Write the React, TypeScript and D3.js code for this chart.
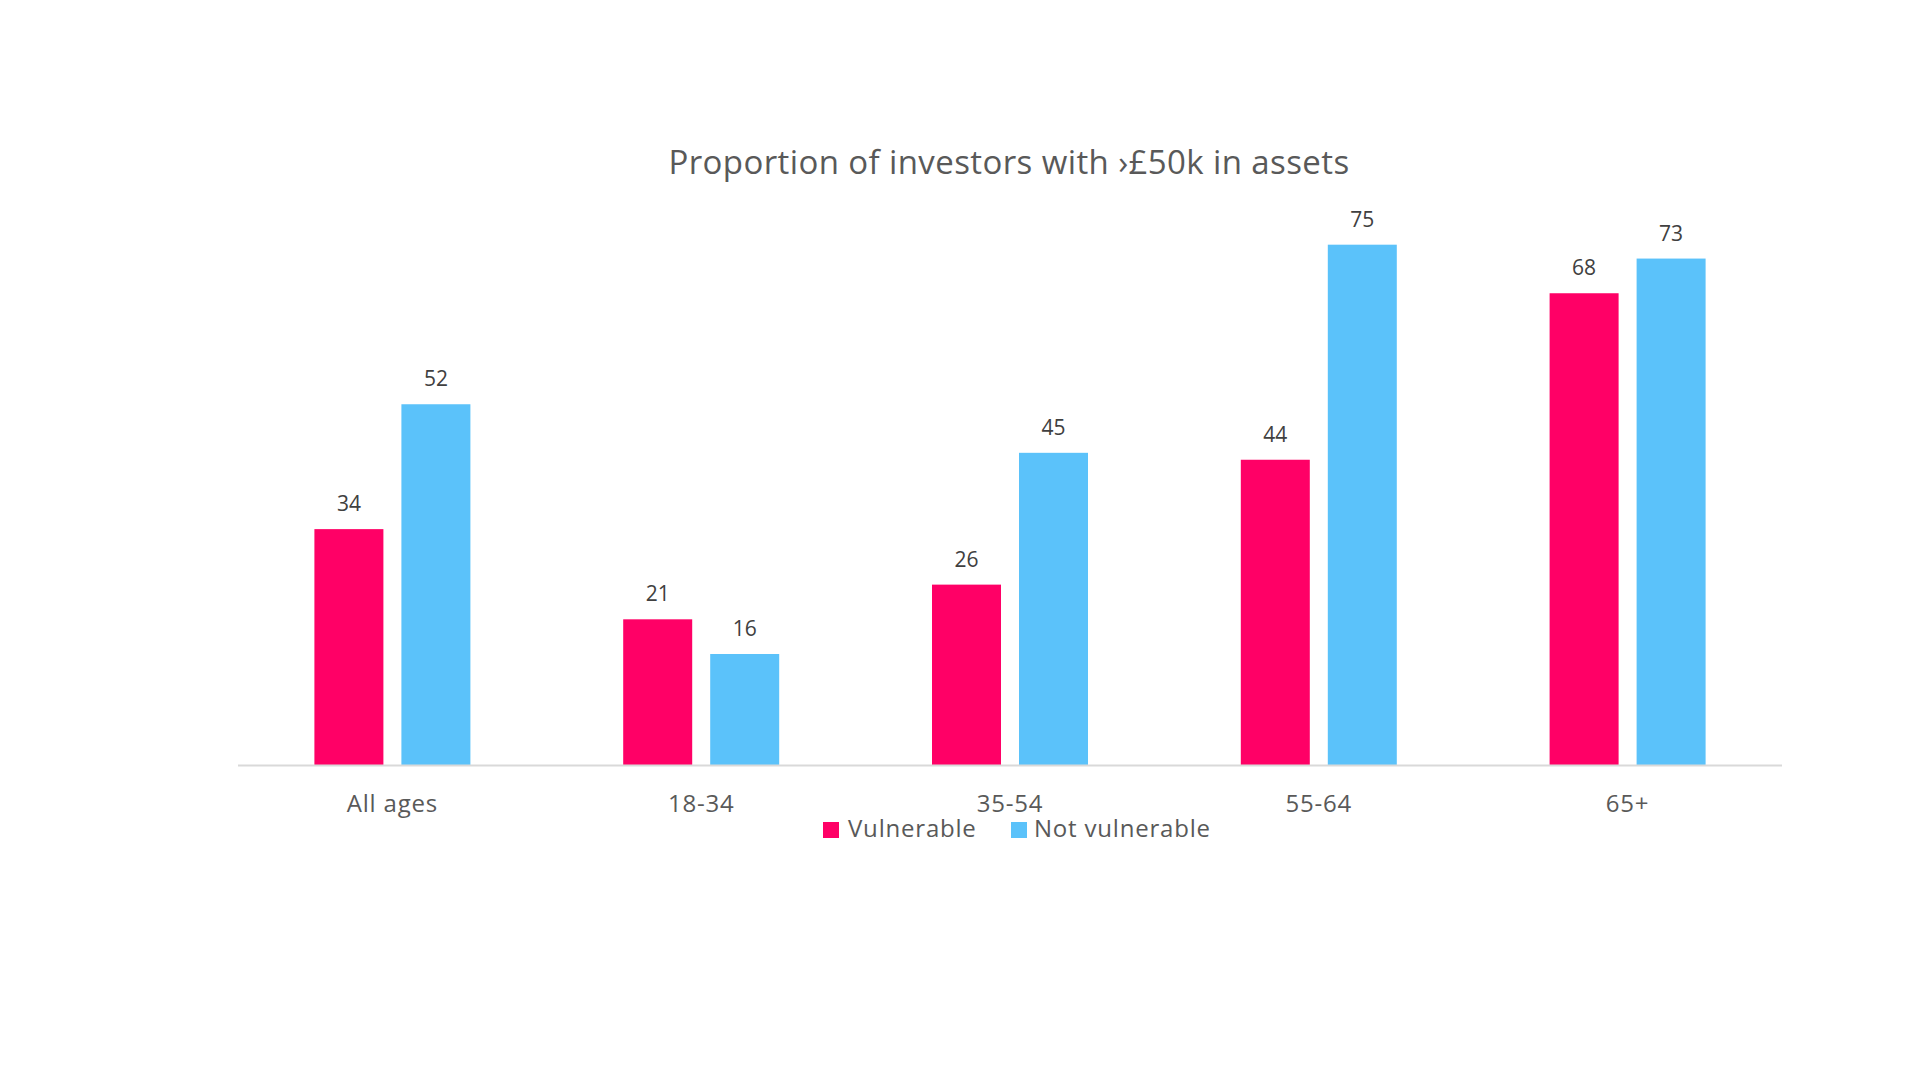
import { useEffect } from "react";
import * as d3 from "d3";

const categories = ["All ages", "18-34", "35-54", "55-64", "65+"];
const seriesNames = ["Vulnerable", "Not vulnerable"];
const vulnerable = [34, 21, 26, 44, 68];
const notVulnerable = [52, 16, 45, 75, 73];
const colors = ["#FF0066", "#5BC2FA"];

const W = 1920;
const H = 1080;
const font = "'Open Sans', Lato, sans-serif";

export default function App() {
  useEffect(() => {
    document.body.style.margin = "0";
  }, []);

  const x0 = d3.scaleBand().domain(categories).range([238, 1782]);
  const step = x0.step();
  const x1 = d3
    .scaleBand()
    .domain(seriesNames)
    .range([step / 2 - 78, step / 2 + 78])
    .paddingInner(18 / 87);
  const y = d3.scaleLinear().domain([0, 80]).range([765, 210]);

  const values = [vulnerable, notVulnerable];

  // legend layout
  const legend = [
    { x: 823, textX: 848 },
    { x: 1011, textX: 1034 },
  ];

  return (
    <svg width={W} height={H} style={{ display: "block", background: "#fff" }}>
      <text
        x={1009}
        y={174}
        textAnchor="middle"
        fontFamily={font}
        fontSize={33}
        letterSpacing={0.4}
        fill="#595959"
      >
        Proportion of investors with ›£50k in assets
      </text>

      {categories.map((c, i) => (
        <g key={c} transform={`translate(${x0(c)},0)`}>
          {seriesNames.map((s, j) => {
            const v = values[j][i];
            const bx = x1(s)!;
            return (
              <g key={s}>
                <rect
                  x={bx}
                  y={y(v)}
                  width={x1.bandwidth()}
                  height={y(0) - y(v)}
                  fill={colors[j]}
                />
                <text
                  x={bx + x1.bandwidth() / 2}
                  y={y(v) - 18}
                  textAnchor="middle"
                  fontFamily={font}
                  fontSize={21}
                  fill="#404040"
                >
                  {v}
                </text>
              </g>
            );
          })}
          <text
            x={step / 2}
            y={812}
            textAnchor="middle"
            fontFamily={font}
            fontSize={24}
            letterSpacing={0.8}
            fill="#595959"
          >
            {c}
          </text>
        </g>
      ))}

      <line x1={238} x2={1782} y1={765.5} y2={765.5} stroke="#D9D9D9" strokeWidth={2} />

      {seriesNames.map((s, j) => (
        <g key={s}>
          <rect x={legend[j].x} y={822} width={16} height={16} fill={colors[j]} />
          <text
            x={legend[j].textX}
            y={837}
            fontFamily={font}
            fontSize={24}
            letterSpacing={0.8}
            fill="#595959"
          >
            {s}
          </text>
        </g>
      ))}
    </svg>
  );
}
